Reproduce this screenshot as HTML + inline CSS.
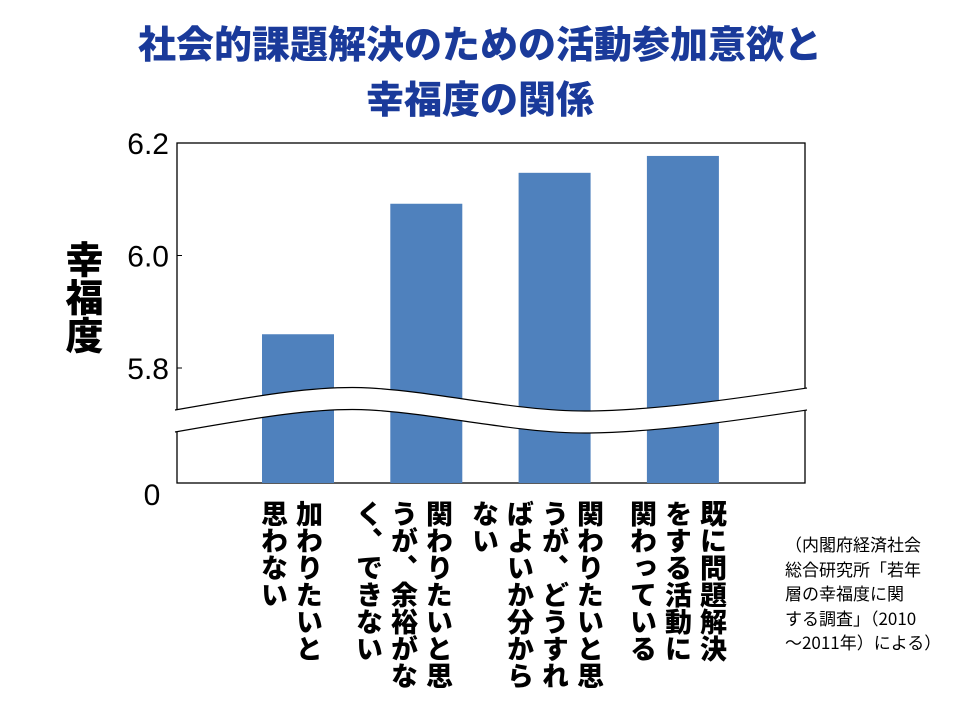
<!DOCTYPE html>
<html><head><meta charset="utf-8"><style>
body{margin:0;width:960px;height:720px;background:#fff;position:relative;overflow:hidden;font-family:"Liberation Sans","Noto Sans CJK JP",sans-serif}
.title{position:absolute;left:0;width:960px;text-align:center;color:#1a3a9a;font-weight:900;font-size:38px;line-height:55px;top:14px;font-family:"Noto Sans CJK JP",sans-serif}
.vl{position:absolute;writing-mode:vertical-rl;font-family:"Noto Sans CJK JP",sans-serif;font-weight:900;font-size:27px;line-height:35px;color:#000;top:500px}
.ylab{position:absolute;left:62px;top:240px;writing-mode:vertical-rl;font-family:"Noto Sans CJK JP",sans-serif;font-weight:900;font-size:38px;line-height:44px}
.src{position:absolute;left:785px;top:532px;font-family:"Noto Sans CJK JP",sans-serif;font-size:17px;line-height:24.5px;color:#000}
</style></head><body>
<div class="title">社会的課題解決のための活動参加意欲と<br>幸福度の関係</div>
<div class="ylab">幸福度</div>
<svg id="chart" width="960" height="720" style="position:absolute;left:0;top:0"></svg>
<div class="vl" style="right:633px">加わりたいと<br>思わない</div>
<div class="vl" style="right:503px">関わりたいと思<br>うが、余裕がな<br>く、できない</div>
<div class="vl" style="right:352px">関わりたいと思<br>うが、どうすれ<br>ばよいか分から<br>ない</div>
<div class="vl" style="right:229px">既に問題解決<br>をする活動に<br>関わっている</div>
<div class="src">（内閣府経済社会<br>総合研究所「若年<br>層の幸福度に関<br>する調査」（2010<br>～2011年）による）</div>
<script>
const categories=["加わりたいと思わない","関わりたいと思うが、余裕がなく、できない","関わりたいと思うが、どうすればよいか分からない","既に問題解決をする活動に関わっている"];
const values=[5.86,6.092,6.147,6.177];
const tickValues=[5.8,6.0,6.2];
const tickLabels=["5.8","6.0","6.2"];
(function(){
const NS="http://www.w3.org/2000/svg";
const svg=document.getElementById('chart');
const L=177,R=805,T=143,B=483;
function y(v){return 368-(v-5.8)*562.5;}
function xc(i){return 298+i*128.3;}
function el(t,a){const e=document.createElementNS(NS,t);for(const k in a)e.setAttribute(k,a[k]);svg.appendChild(e);return e;}
const frame=el('rect',{x:L,y:T,width:R-L,height:B-T,fill:'none',stroke:'#000','stroke-width':1.3});


values.forEach((v,i)=>{
  const b=el('rect',{x:xc(i)-36,y:y(v),width:72,height:B-y(v),fill:'#4f81bd'});
  
  
});
tickValues.forEach((v,i)=>{
  const tk=el('line',{x1:L,x2:L+5,y1:y(v),y2:y(v),stroke:'#000'});
  
  
  const t=el('text',{x:L-8,y:y(v)+11,'text-anchor':'end','font-size':30,'font-family':'Liberation Sans, sans-serif'});
  t.textContent=tickLabels[i];
  
  
});
const z=el('text',{x:152,y:505,'text-anchor':'middle','font-size':30,'font-family':'Liberation Sans, sans-serif'});
z.textContent="0";


const upperPath="M"+(L-2)+",410 C260,395 320,385 370,388 C440,392 520,412 590,411 C660,410 740,398 "+(R+2)+",388";
const band=el('path',{d:upperPath+" L"+(R+2)+",410 C740,420 660,432 590,433 C520,434 440,414 370,410 C320,407 260,417 "+(L-2)+",432 Z",fill:'#fff',stroke:'none'});


el('path',{d:upperPath,fill:'none',stroke:'#000','stroke-width':1.2});
const lowerPath="M"+(L-2)+",432 C260,417 320,407 370,410 C440,414 520,434 590,433 C660,432 740,420 "+(R+2)+",410";
el('path',{d:lowerPath,fill:'none',stroke:'#000','stroke-width':1.2});
})();
</script>
</body></html>
